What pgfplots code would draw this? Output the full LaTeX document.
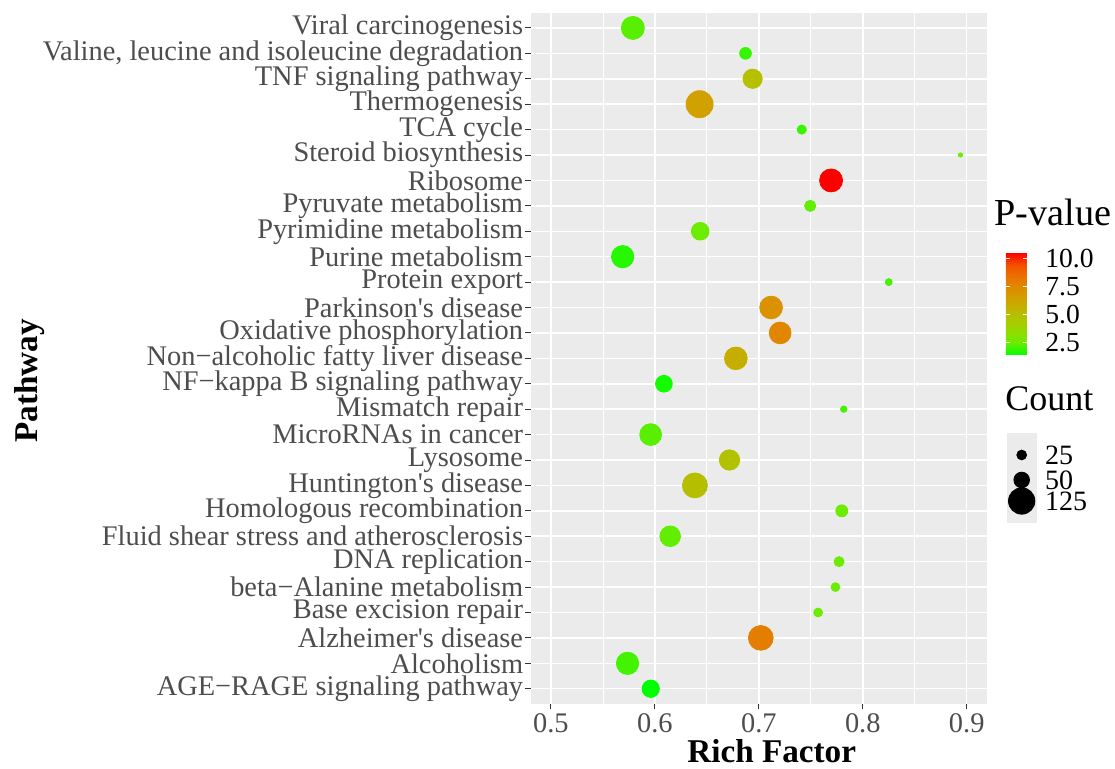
\documentclass[border=0pt]{standalone}
\usepackage{pgfplots}
\pgfplotsset{compat=1.18}
\usepackage{pgfplotstable}
\usepackage{fontspec}
\setmainfont{Liberation Serif}
\definecolor{panelbg}{RGB}{235,235,235}
\definecolor{grey30}{RGB}{77,77,77}
\definecolor{grey20}{RGB}{51,51,51}
\pgfplotstableread{
idx rf count p
27 0.5788 97 2.3
26 0.6872 32 1.95
25 0.6940 71 4.9
24 0.6430 131 6.4
23 0.7413 23 1.95
22 0.8940 12 2.5
21 0.7695 97 10.5
20 0.7494 30 2.4
19 0.6436 61 2.5
18 0.5690 92 1.8
17 0.8250 17 2.1
16 0.7118 95 7.1
15 0.7205 88 7.6
14 0.6779 95 5.8
13 0.6087 56 1.6
12 0.7817 16 2.1
11 0.5959 88 2.3
10 0.6718 78 4.8
9 0.6385 113 5.0
8 0.7798 33 2.5
7 0.6147 80 2.4
6 0.7772 26 2.5
5 0.7737 22 2.5
4 0.7570 22 2.5
3 0.7019 111 7.9
2 0.5737 92 2.1
1 0.5960 59 1.41
}\data
\pgfplotstableread{
x y count
0.5 455 25
0.5 480 50
0.5 501 125
}\sizekey
\begin{document}
\begin{tikzpicture}
\path[use as bounding box] (-265.5pt,-32.5pt) rectangle (292pt,352pt);
\begin{axis}[
  at={(0,0)}, anchor=south west,
  scale only axis, width=228pt, height=345.65pt,
  xmin=0.4808, xmax=0.9195, ymin=0.4, ymax=27.6,
  xtick={0.5,0.6,0.7,0.8,0.9},
  xticklabels={0.5,0.6,0.7,0.8,0.9},
  minor xtick={0.55,0.65,0.75,0.85},
  ytick={1,...,27},
  yticklabels={AGE−RAGE signaling pathway, Alcoholism, Alzheimer\textquotesingle s disease, Base excision repair, beta−Alanine metabolism, DNA replication, Fluid shear stress and atherosclerosis, Homologous recombination, Huntington\textquotesingle s disease, Lysosome, MicroRNAs in cancer, Mismatch repair, NF−kappa B signaling pathway, Non−alcoholic fatty liver disease, Oxidative phosphorylation, Parkinson\textquotesingle s disease, Protein export, Purine metabolism, Pyrimidine metabolism, Pyruvate metabolism, Ribosome, Steroid biosynthesis, TCA cycle, Thermogenesis, TNF signaling pathway, {Valine, leucine and isoleucine degradation}, Viral carcinogenesis},
  axis background/.style={fill=panelbg},
  axis line style={draw=none},
  grid=both,
  major grid style={white, line width=0.75pt},
  minor grid style={white, line width=0.4pt},
  tick align=outside,
  tick pos=left,
  major tick length=2.75pt, minor tick length=0pt,
  tick style={grey20, line width=0.5pt},
  ticklabel style={font=\fontsize{14.2}{16}\selectfont, text=grey30},
  yticklabel style={inner sep=0pt, xshift=-1pt},
  xticklabel style={inner sep=0pt, yshift=-2pt},
  clip mode=individual,
  colormap={gg}{rgb255=(0,255,0) rgb255=(112,235,0) rgb255=(152,215,0) rgb255=(179,194,0) rgb255=(201,171,0) rgb255=(218,146,0) rgb255=(232,118,0) rgb255=(244,83,0) rgb255=(255,0,0)},
  point meta min=1.41, point meta max=10.5,
  colorbar,
  colorbar style={
    at={(parent axis.north east)}, anchor=north west,
    xshift=0.96pt, yshift=-120pt,
    scale only axis, width=10.5pt, height=51.15pt,
    ytick={2.5,5,7.5,10},
    yticklabels={2.5,5.0,7.5,10.0},
    grid=none,
    tick align=inside,
    ytick pos=both,
    yticklabel pos=right,
    major tick length=2pt,
    tick style={white, line width=0.6pt},
    axis line style={draw=none},
    yticklabel style={font=\fontsize{13.8}{16}\selectfont, text=black, inner sep=0pt, xshift=9pt},
  },
]
\addplot[scatter, only marks, mark=*, scatter src=explicit,
  scatter/use mapped color={draw=mapped color, fill=mapped color},
  visualization depends on={\thisrow{count} \as \cnt},
  scatter/@pre marker code/.append style={/tikz/mark size={sqrt(6*(\cnt-9))/4}}]
  table[x=rf, y=idx, meta=p] {\data};
\node[anchor=base, font=\bfseries\fontsize{16.6}{20}\selectfont, yshift=-29.35pt] at (rel axis cs:0.5279,0) {Rich Factor};
\node[anchor=center, xshift=-250.5pt, rotate=90, font=\bfseries\fontsize{16.6}{20}\selectfont] at (rel axis cs:0,0.4672) {Pathway};
\node[anchor=base west, inner sep=0pt, font=\fontsize{19.1}{22}\selectfont, xshift=3.5pt, yshift=-106.65pt] at (rel axis cs:1,1) {P-value};
\node[anchor=base west, inner sep=0pt, font=\fontsize{18}{22}\selectfont, xshift=9pt, yshift=-199.15pt] at (rel axis cs:1,1) {Count};
\end{axis}
\begin{axis}[
  at={(237.85pt,135.65pt)}, anchor=north west,
  scale only axis, width=15pt, height=45.3pt,
  hide axis, clip=false,
  xmin=0, xmax=1, ymin=432.7, ymax=523.3, y dir=reverse,
]
\fill[panelbg] (rel axis cs:0,0) rectangle (rel axis cs:1,1);
\addplot[scatter, only marks, mark=*, scatter src=explicit,
  scatter/use mapped color={draw=black, fill=black},
  visualization depends on={\thisrow{count} \as \cnt},
  scatter/@pre marker code/.append style={/tikz/mark size={sqrt(6*(\cnt-9))/4}}]
  table[x=x, y=y, meta=count] {\sizekey};
\foreach \yy/\lab in {455/25, 480/50, 501/125}{
  \edef\tmp{\noexpand\node[anchor=west, inner sep=0pt, xshift=11.5pt, font=\noexpand\fontsize{14}{16}\noexpand\selectfont] at (axis cs:0.5,\yy) {\lab};}\tmp
}
\end{axis}
\end{tikzpicture}
\end{document}
